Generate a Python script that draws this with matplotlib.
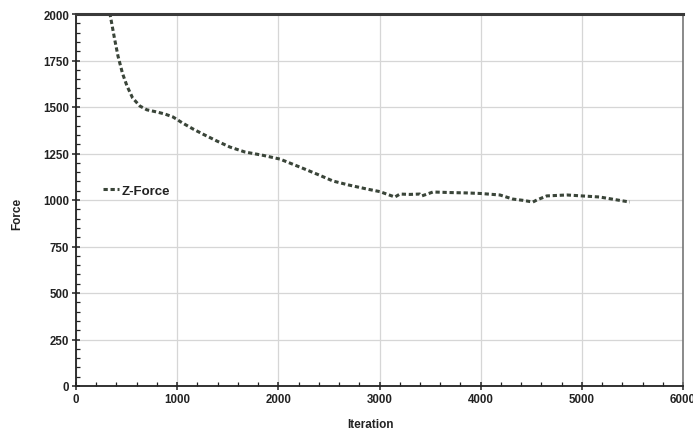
import matplotlib
matplotlib.use("Agg")
import matplotlib.pyplot as plt
from matplotlib.ticker import MultipleLocator

plt.rcParams['font.family'] = ['Liberation Sans', 'DejaVu Sans']

# Z-force convergence over solver iterations
iteration = [290, 336, 380, 415, 460, 504, 560, 632, 700, 800, 880, 960, 1050, 1156,
             1270, 1393, 1520, 1670, 1850, 2016, 2213, 2400, 2540, 2700, 2875, 3004,
             3152, 3202, 3300, 3399, 3419, 3528, 3700, 3864, 4000, 4190, 4318, 4420,
             4516, 4555, 4654, 4852, 5000, 5178, 5330, 5474]
z_force = [2150, 2000, 1870, 1774, 1680, 1613, 1548, 1505, 1485, 1473, 1462, 1446, 1415, 1382,
           1350, 1317, 1285, 1258, 1240, 1220, 1177, 1135, 1102, 1080, 1059, 1045,
           1016, 1032, 1030, 1032, 1022, 1043, 1040, 1038, 1035, 1027, 1005, 998,
           989, 1000, 1022, 1027, 1022, 1016, 1002, 989]

fig = plt.figure(figsize=(6.93, 4.35), dpi=100)
ax = fig.add_axes([76/693, 1-387/435, (683-76)/693, (387-15)/435])

ax.plot(iteration, z_force, color='#3a4539', lw=2.2, ls=(0, (1.4, 0.9)),
        label='Z-Force', dash_capstyle='butt')

ax.set_xlim(0, 6000)
ax.set_ylim(0, 2000)
ax.xaxis.set_major_locator(MultipleLocator(1000))
ax.xaxis.set_minor_locator(MultipleLocator(200))
ax.yaxis.set_major_locator(MultipleLocator(250))
ax.yaxis.set_minor_locator(MultipleLocator(50))

ax.grid(True, which='major', color='#d6d6d6', lw=0.9)
ax.set_axisbelow(True)

ax.tick_params(which='major', direction='inout', length=6, width=1.1,
               labelsize=8.3, colors='#222222', pad=2)
ax.tick_params(which='minor', direction='in', length=3, width=0.9, colors='#222222')
for lab in ax.get_xticklabels() + ax.get_yticklabels():
    lab.set_fontweight('bold')

for side in ('left', 'bottom'):
    ax.spines[side].set_color('#222222')
    ax.spines[side].set_linewidth(1.3)
ax.spines['top'].set_color('#3a3a3a')
ax.spines['top'].set_linewidth(2.2)
ax.spines['right'].set_color('#777777')
ax.spines['right'].set_linewidth(1.2)

ax.set_xlabel('Iteration', fontsize=8.5, fontweight='bold', color='#222222')
ax.xaxis.set_label_coords(0.485, -0.087)
ax.set_ylabel('Force', fontsize=8.5, fontweight='bold', color='#222222')
ax.yaxis.set_label_coords(-0.087, 0.465)

leg = ax.legend(loc='center left', bbox_to_anchor=(0.025, 0.525), frameon=False,
                handlelength=1.2, handletextpad=0.2, prop={'size': 9.5, 'weight': 'bold'})
for t in leg.get_texts():
    t.set_color('#222222')

fig.savefig('out.png', dpi=100)
